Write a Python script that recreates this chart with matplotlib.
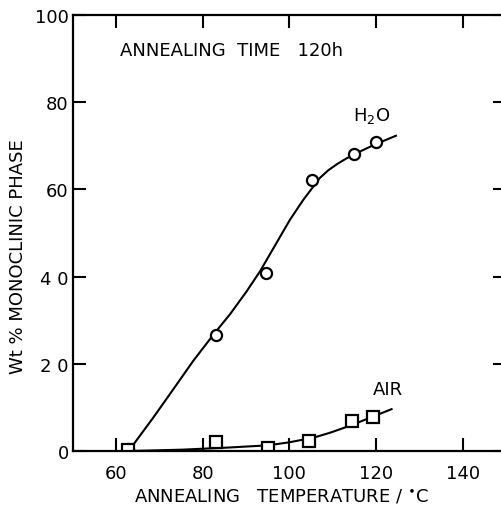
import matplotlib
matplotlib.use('Agg')
import matplotlib.pyplot as plt

# measured points, wet (H2O) anneal
h2o_t = [62.6, 83.0, 94.6, 105.1, 115.0, 120.0]
h2o_wt = [0.5, 26.5, 40.9, 62.1, 68.1, 70.8]
# hand-drawn trend line through the H2O points
h2o_curve_t = [63.3, 68.5, 73.2, 77.8, 81.6, 84.0, 86.3, 88.2, 90.1, 93.2,
               96.3, 100.1, 103.2, 105.5, 107.0, 109.0, 111.0, 113.0, 115.1,
               117.8, 120.0, 124.6]
h2o_curve_wt = [0.6, 7.6, 14.2, 20.7, 25.6, 28.6, 31.4, 34.0, 36.6, 41.2,
                46.5, 53.0, 57.6, 60.6, 62.6, 64.4, 65.8, 67.0, 68.1,
                69.4, 70.4, 72.3]

# measured points, dry (AIR) anneal
air_t = [62.7, 83.0, 95.0, 104.5, 114.4, 119.4]
air_wt = [0.3, 2.0, 0.7, 2.2, 6.8, 7.9]
air_curve_t = [63.0, 75.0, 86.0, 95.0, 100.0, 105.7, 109.4, 114.0, 119.3, 123.6]
air_curve_wt = [0.0, 0.3, 0.8, 1.3, 2.0, 3.1, 4.2, 5.8, 7.9, 9.6]

x_ticks = [60, 80, 100, 120, 140]
y_ticks = [0, 20, 40, 60, 80, 100]
y_tick_labels = ['0', '2 0', '4 0', '60', '80', '100']

plt.rcParams['font.family'] = ['DejaVu Sans']
plt.rcParams['font.size'] = 13

fig = plt.figure(figsize=(5.01, 5.10), dpi=100)
ax = fig.add_axes([0.1457, 0.1137, 0.864, 0.855])

ax.plot(h2o_curve_t, h2o_curve_wt, color='black', lw=1.5, solid_joinstyle='round')
ax.plot(air_curve_t, air_curve_wt, color='black', lw=1.5, solid_joinstyle='round')
ax.plot(h2o_t, h2o_wt, 'o', ms=8, mfc='white', mec='black', mew=1.6)
ax.plot(air_t, air_wt, 's', ms=8, mfc='white', mec='black', mew=1.6)

ax.set_xlim(50, 150)
ax.set_ylim(0, 100)
ax.set_xticks(x_ticks)
ax.set_yticks(y_ticks)
ax.set_yticklabels(y_tick_labels)
ax.tick_params(direction='in', length=9.5, width=1.5, top=True, right=True,
               labelsize=13)
ax.tick_params(axis='x', pad=9)
ax.tick_params(axis='y', pad=3)
for side in ax.spines.values():
    side.set_linewidth(1.6)

ax.text(60.9, 92, 'ANNEALING  TIME   120h', fontsize=13, va='center')
ax.text(114.7, 77, 'H$_2$O', fontsize=13, va='center')
ax.text(119.2, 14.3, 'AIR', fontsize=13, va='center')

ax.set_xlabel('ANNEALING   TEMPERATURE / $^{\\bullet}$C', fontsize=13)
ax.set_ylabel('Wt % MONOCLINIC PHASE', fontsize=13)
ax.xaxis.set_label_coords(0.482, -0.083)
ax.yaxis.set_label_coords(-0.106, 0.447)

fig.savefig('out.png', dpi=100)
